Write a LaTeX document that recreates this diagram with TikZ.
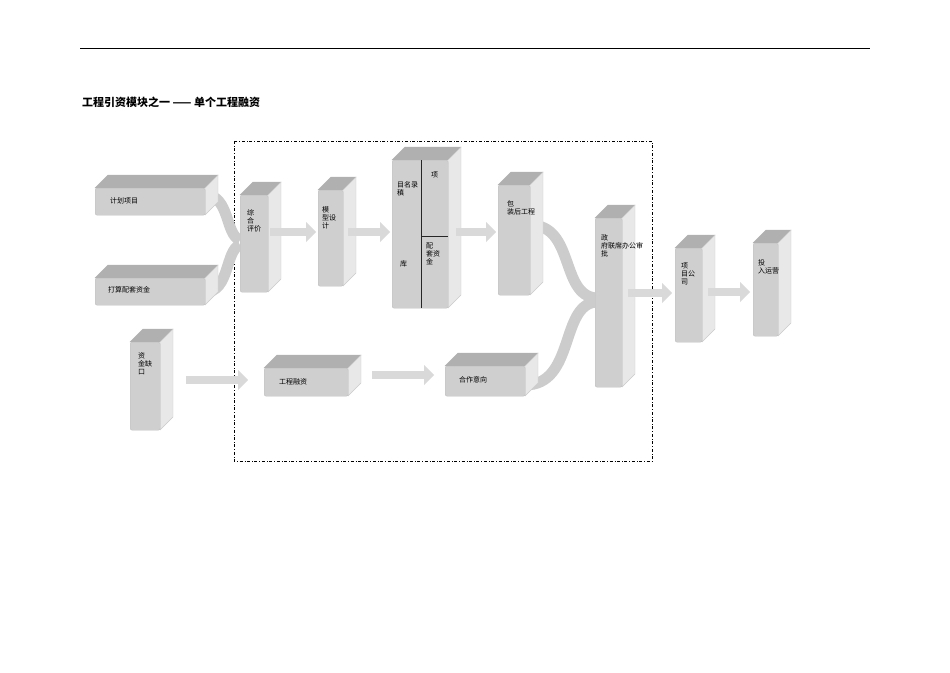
\documentclass[tikz,border=0pt]{standalone}
\usepackage{fontspec}
\newfontfamily\cjk{Noto Sans CJK SC}
\usetikzlibrary{arrows,shapes.arrows}
\tikzset{
  face/.style={fill=gray!38,draw=gray!50,rounded corners=2pt},
  topface/.style={fill=gray!62,draw=gray!60},
  sideface/.style={fill=gray!18,draw=gray!40},
  lab/.style={font=\cjk\fontsize{7}{8}\selectfont,align=left,inner sep=0pt},
  blockarrow/.style={single arrow,fill=gray!30,draw=none,minimum height=#1,
    single arrow head extend=5pt,minimum width=20pt,inner sep=3pt},
  band/.style={draw=gray!40,line width=11pt,line cap=butt}
}
% box with depth: name, x, y, w, h
\newcommand{\cube}[5]{%
  \fill[topface] (#2,#3)--(#2+13,#3-13)--(#2+#4+13,#3-13)--(#2+#4,#3)--cycle;
  \fill[sideface] (#2+#4,#3)--(#2+#4+13,#3-13)--(#2+#4+13,#3+#5-13)--(#2+#4,#3+#5)--cycle;
  \node[face,anchor=north west,minimum width=#4,minimum height=#5,inner sep=0pt] (#1) at (#2,#3) {};
}
\begin{document}
\begin{tikzpicture}[x=1pt,y=-1pt]
  \useasboundingbox (0,0) rectangle (950,672);
  \draw[line width=1pt] (80,48) -- (870,48);
  \node[anchor=west,font=\cjk\bfseries\fontsize{11}{12}\selectfont,inner sep=0pt] (title) at (82,102) {工程引资模块之一 —— 单个工程融资};
  \draw[dash dot,line width=0.8pt] (234,141) rectangle (652,461);
  % connector bands
  \draw[band] (205,195) .. controls (230,195) and (225,235) .. (240,240);
  \draw[band] (205,292) .. controls (230,292) and (225,250) .. (240,245);
  \draw[band] (530,225) .. controls (575,225) and (560,295) .. (596,298);
  \draw[band] (525,385) .. controls (575,385) and (560,305) .. (596,302);
  % boxes
  \cube{plan}{95}{188}{110}{27}
  \cube{fund}{95}{278}{110}{27}
  \cube{gap}{130}{342}{30}{88}
  \cube{eval}{240}{195}{28}{97}
  \cube{model}{318}{190}{25}{96}
  \cube{lib}{392}{160}{56}{148}
  \cube{pack}{498}{185}{32}{110}
  \cube{gov}{595}{218}{27}{169}
  \cube{comp}{675}{248}{27}{94}
  \cube{oper}{753}{243}{25}{93}
  \cube{fin}{264}{368}{84}{28}
  \cube{coop}{445}{366}{80}{30}
  \draw[gray!30!black] (421,160) -- (421,308) (421,236) -- (448,236);
  % labels
  \node[lab,anchor=west] at (110,201) {计划项目};
  \node[lab,anchor=west] at (108,290) {打算配套资金};
  \node[lab,anchor=north west] at (138,352) {资\\金缺\\口};
  \node[lab,anchor=north west] at (247,209) {综\\合\\评价};
  \node[lab,anchor=north west] at (322,206) {模\\型设\\计};
  \node[lab,anchor=north west] at (397,181) {目名录\\稹};
  \node[lab,anchor=north west] at (431,172) {项};
  \node[lab,anchor=north west] at (400,260) {库};
  \node[lab,anchor=north west] at (426,243) {配\\套资\\金};
  \node[lab,anchor=north west] at (507,200) {包\\装后工程};
  \node[lab,anchor=north west] at (601,234) {政\\府联席办公审\\批};
  \node[lab,anchor=north west] at (681,263) {项\\目公\\司};
  \node[lab,anchor=north west] at (758,259) {投\\入运营};
  \node[lab,anchor=west] at (279,382) {工程融资};
  \node[lab,anchor=west] at (459,380) {合作意向};
  % arrows
  \path (eval.east) ++(3,-8) coordinate (a1s);
  \node[blockarrow=46pt,anchor=west] (a1) at (270,232) {};
  \node[blockarrow=42pt,anchor=west] (a2) at (348,232) {};
  \node[blockarrow=40pt,anchor=west] (a3) at (456,232) {};
  \node[blockarrow=44pt,anchor=west] (a4) at (628,293) {};
  \node[blockarrow=42pt,anchor=west] (a5) at (708,292) {};
  \node[blockarrow=62pt,anchor=west] (a6) at (186,380) {};
  \node[blockarrow=62pt,anchor=west] (a7) at (372,375) {};
\end{tikzpicture}
\end{document}
